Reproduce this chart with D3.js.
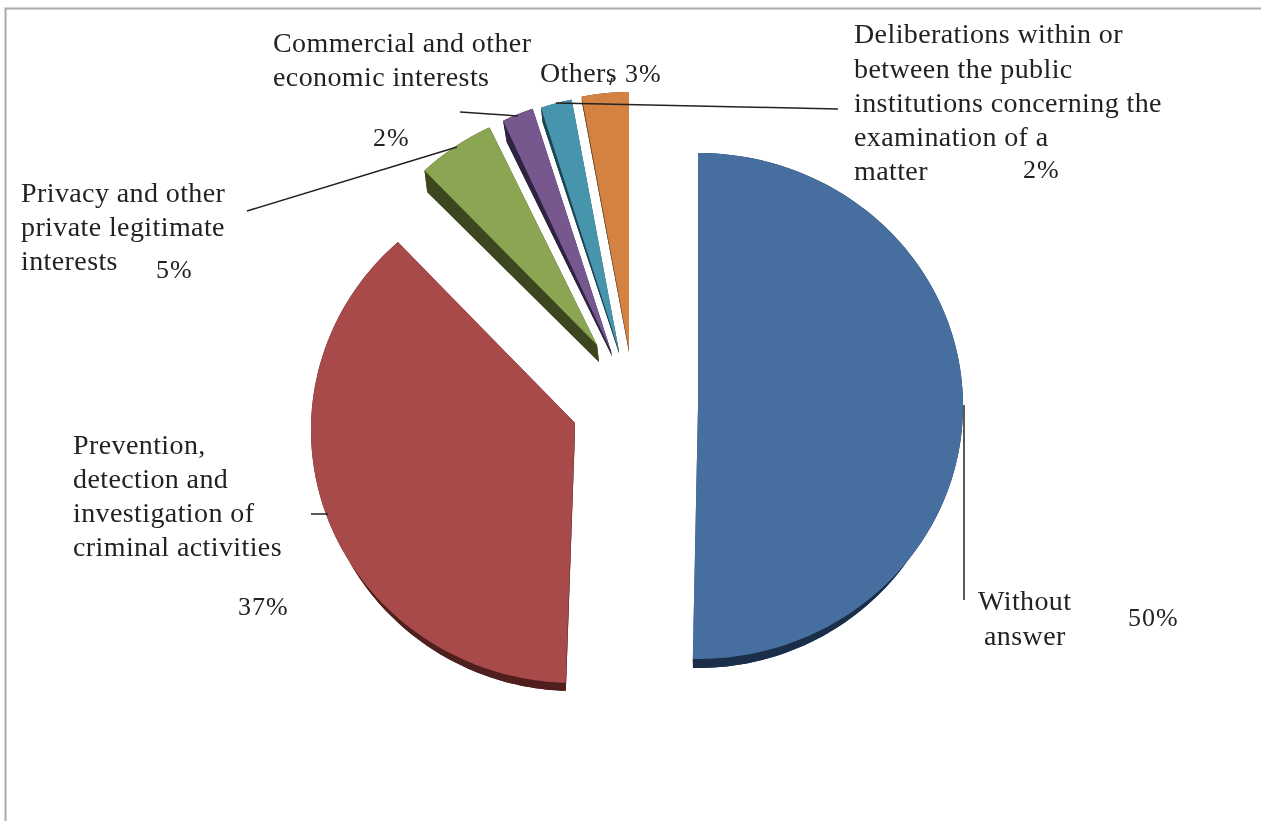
<!DOCTYPE html>
<html><head><meta charset="utf-8">
<script src="https://cdnjs.cloudflare.com/ajax/libs/d3/7.8.5/d3.min.js"></script>
<style>html,body{margin:0;background:#fff}svg{display:block;filter:blur(0.5px)}text{font-family:"Liberation Serif",serif;font-size:28px;letter-spacing:0.4px;fill:#222}text.pct{font-size:26px;letter-spacing:1px}</style>
</head><body><svg id="c" width="1261" height="821"></svg>
<script>
const categories=["Without answer","Prevention, detection and investigation of criminal activities","Privacy and other private legitimate interests","Commercial and other economic interests","Deliberations within or between the public institutions concerning the examination of a matter","Others"];
const values=[50,37,5,2,2,3];
const topColors=["#466f9f","#a84a49","#8aa652","#76588f","#4795ad","#d38241"];
const sideColors=["#1a2e4a","#4f1f1d","#3c461f","#2e2340","#1c4453","#5a3618"];
// layout per slice: wedge apex (x,y), rim ellipse centre (cx,cy) and radii, bottom face, perspective tweak of the angles (degrees)
const faces=[
 {x:698,y:408,cx:698,cy:406,rx:265,ry:253,bx:698,by:417,bcx:698,bcy:415,brx:256.5,bry:253,ds:0,de:-0.7},
 {x:575,y:423,cx:574,cy:430,rx:263,ry:253,bx:575,by:431,bcx:574,bcy:438,brx:257.5,bry:253,ds:0,de:1.6},
 {x:597,y:345,cx:597,cy:345,rx:250,ry:241,bx:599,by:362,bcx:599,bcy:362,brx:249,bry:235,ds:0,de:0},
 {x:611,y:351,cx:611,cy:351,rx:251,ry:255,bx:612,by:356,bcx:612,bcy:356,brx:245,bry:237,ds:0,de:0},
 {x:619,y:351,cx:619,cy:351,rx:250,ry:256,bx:619,by:353,bcx:619,bcy:353,brx:245,bry:243,ds:0,de:0},
 {x:629,y:350,cx:629,cy:350,rx:250,ry:258,bx:629,by:352,bcx:629,bcy:352,brx:248,bry:254,ds:0,de:0}
];
const labels=[
 {t:"Commercial and other",x:273,y:52},{t:"economic interests",x:273,y:86},{t:"2%",x:373,y:146,p:1},
 {t:"Others",x:540,y:82},{t:"3%",x:625,y:82,p:1},
 {t:"Deliberations within or",x:854,y:43},{t:"between the public",x:854,y:78},{t:"institutions concerning the",x:854,y:112},{t:"examination of a",x:854,y:146},{t:"matter",x:854,y:180},{t:"2%",x:1023,y:178,p:1},
 {t:"Privacy and other",x:21,y:202},{t:"private legitimate",x:21,y:236},{t:"interests",x:21,y:270},{t:"5%",x:156,y:278,p:1},
 {t:"Prevention,",x:73,y:454},{t:"detection and",x:73,y:488},{t:"investigation of",x:73,y:522},{t:"criminal activities",x:73,y:556},{t:"37%",x:238,y:615,p:1},
 {t:"Without",x:978,y:610},{t:"answer",x:984,y:645},{t:"50%",x:1128,y:626,p:1}
];
const leaders=[[[247,211],[457,147]],[[460,112],[518,116]],[[556,103],[838,109]],[[964,405],[964,600]],[[311,514],[328,514]],[[612,78],[610,85]]];

const svg=d3.select("#c");
svg.append("path").attr("d",d3.line()([[5.5,821],[5.5,8.5],[1261,8.5]])).attr("fill","none").attr("stroke","#aaa").attr("stroke-width",2);

const arcs=d3.pie().sort(null).startAngle(0).endAngle(2*Math.PI)(values);
const pt=(cx,cy,rx,ry,a)=>[cx+rx*Math.sin(a),cy-ry*Math.cos(a)];
const line=d3.line();
const rad=d3.scaleLinear().domain([0,180]).range([0,Math.PI]);
arcs.forEach((d,i)=>{
  const f=faces[i],g=svg.append("g");
  const a0=d.startAngle+rad(f.ds),a1=d.endAngle+rad(f.de);
  const as=d3.range(0,121).map(k=>a0+(a1-a0)*k/120);
  const topRim=as.map(a=>pt(f.cx,f.cy,f.rx,f.ry,a));
  const botRim=as.map(a=>pt(f.bcx,f.bcy,f.brx,f.bry,a));
  const dark=sideColors[i];
  g.append("path").attr("fill",dark).attr("d",line([[f.bx,f.by],...botRim])+"Z");
  g.append("path").attr("fill",dark).attr("d",line([...topRim,...botRim.slice().reverse()])+"Z");
  [0,120].forEach(k=>g.append("path").attr("fill",dark).attr("d",line([[f.x,f.y],topRim[k],botRim[k],[f.bx,f.by]])+"Z"));
  g.append("path").attr("fill",topColors[i]).attr("d",line([[f.x,f.y],...topRim])+"Z");
});
svg.selectAll("path.leader").data(leaders).join("path").attr("class","leader").attr("d",d=>line(d)).attr("fill","none").attr("stroke","#222").attr("stroke-width",1.5);
svg.selectAll("text").data(labels).join("text").attr("class",d=>d.p?"pct":null).attr("x",d=>d.x).attr("y",d=>d.y).text(d=>d.t);
</script></body></html>
